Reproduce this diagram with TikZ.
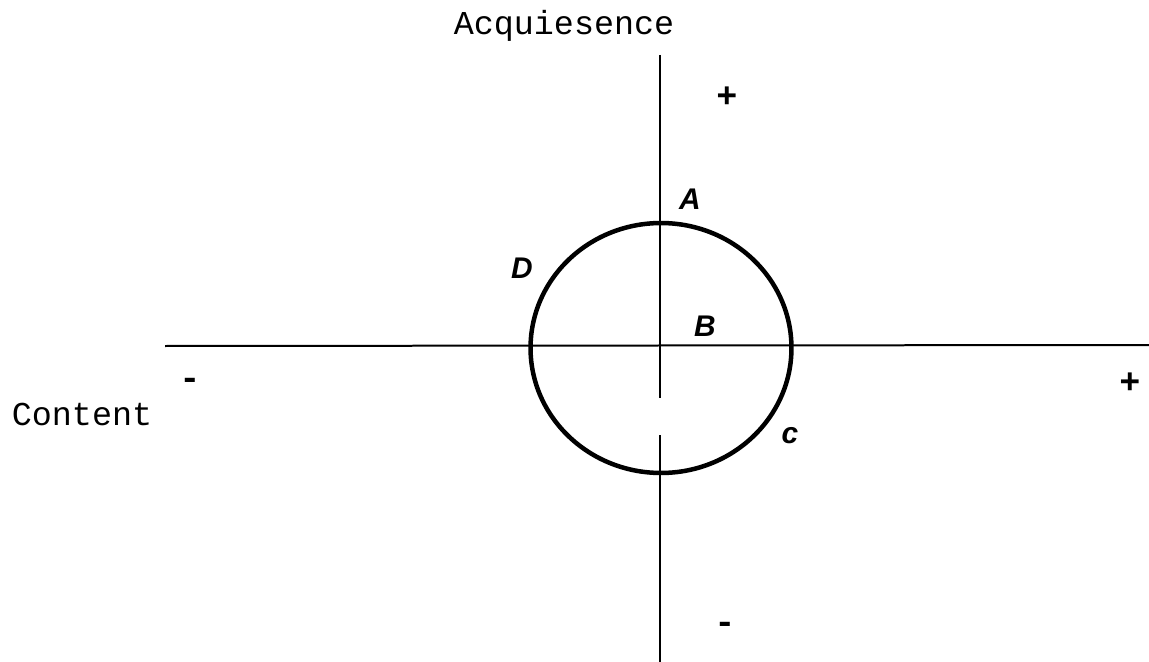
\documentclass[tikz,border=0pt]{standalone}
\usepackage{fontspec}
\setmonofont{Liberation Mono}
\newfontfamily\handfont{Liberation Sans}
\usetikzlibrary{positioning}

\begin{document}
\begin{tikzpicture}[x=0.02cm, y=-0.02cm,
    every node/.style={inner sep=0pt},
    ax/.style={line width=0.4mm},
    ring/.style={line width=0.9mm},
    ttl/.style={font=\fontsize{19}{22}\selectfont\ttfamily},
    sgn/.style={font=\fontsize{20}{22}\selectfont\ttfamily\bfseries},
    hnd/.style={font=\fontsize{17}{20}\selectfont\handfont\bfseries\itshape},
  ]
  \useasboundingbox (0,0) rectangle (1149,662);
  % axes
  \coordinate (vtop) at (660,55);
  \coordinate (vgap1) at (660,398);
  \coordinate (vgap2) at (660,435);
  \coordinate (vbot) at (660,662);
  \coordinate (hleft) at (165,346);
  \coordinate (hright) at (1149,345);
  \draw[ax] (vtop) -- (vgap1);
  \draw[ax] (vgap2) -- (vbot);
  \draw[ax] (hleft) -- (hright);
  % circle
  \coordinate (ctr) at (661,348);
  \draw[ring] (ctr) ellipse [x radius=2.61cm, y radius=2.5cm];
  % axis labels
  \node[ttl] (acq) at (564,26) {Acquiesence};
  \node[ttl] (cont) at (82,414) {Content};
  \node[sgn] (vplus) at (727,97) {+};
  \node[sgn] (vminus) at (725,628) {-};
  \node[sgn] (hminus) at (190,384) {-};
  \node[sgn] (hplus) at (1130,383) {+};
  % points
  \node[hnd] (pA) at (690,199) {A};
  \node[hnd] (pD) at (522,268) {D};
  \node[hnd] (pB) at (705,326) {B};
  \node[hnd] (pC) at (790,436) {c};
\end{tikzpicture}
\end{document}
